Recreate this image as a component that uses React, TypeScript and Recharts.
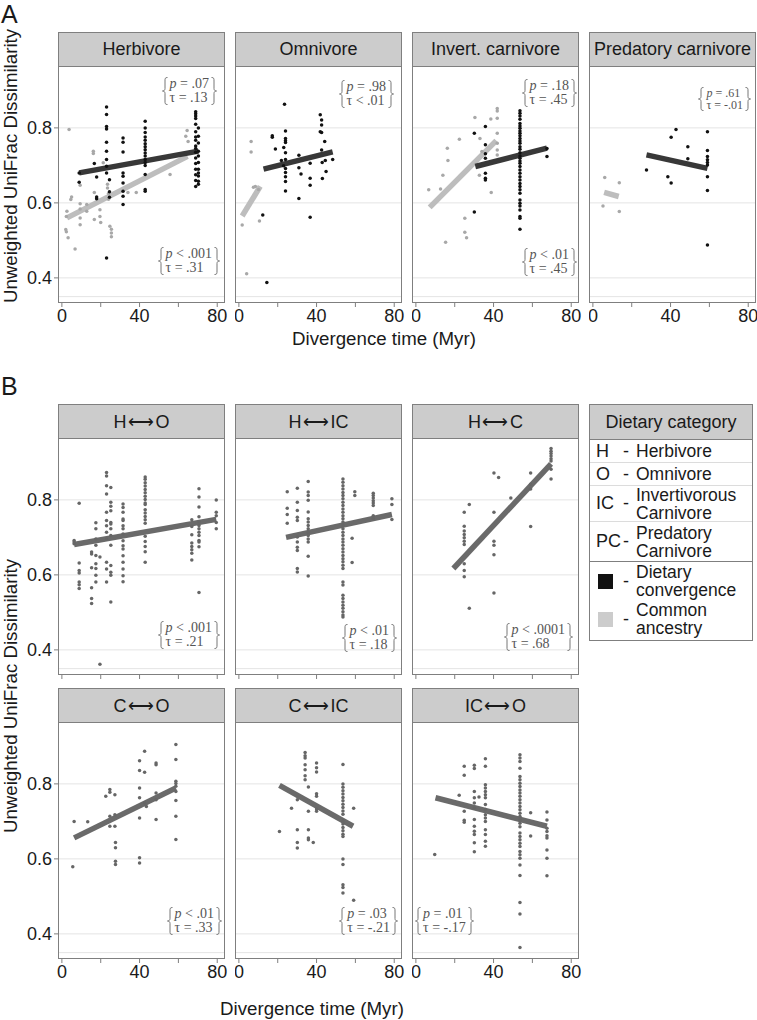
import { ComposedChart, Line, ReferenceLine, Scatter, XAxis, YAxis } from 'recharts'

type Pt = [number, number]

// shared scales (facets share both axes)
const xDomain = [-2, 84]
const yDomain = [0.333, 0.965]
const xTicks = [0, 20, 40, 60, 80]
const xTickLabels = [0, 40, 80]
const yTicks = [0.4, 0.6, 0.8]
const gridLines = [0.35, 0.4, 0.6, 0.8]

// several points sharing the same divergence time
const col = (x: number, ys: number[]): Pt[] => ys.map((y) => [x, y] as Pt)

// ---------- panel A ----------
const herbConv: Pt[] = [
  ...col(8.9, [0.68, 0.655]),
  [16.7, 0.705],
  ...col(17.9, [0.669, 0.616, 0.611]),
  ...col(23, [0.856, 0.836, 0.804, 0.797, 0.762, 0.738, 0.716, 0.698, 0.68, 0.453]),
  ...col(24.5, [0.662, 0.63, 0.615]),
  ...col(31.5, [0.773, 0.762, 0.736, 0.68, 0.671, 0.653, 0.631, 0.618, 0.596]),
  ...col(42.9, [0.818, 0.8, 0.788, 0.776, 0.767, 0.758, 0.75, 0.742, 0.733, 0.725, 0.716, 0.708, 0.7, 0.676, 0.636, 0.631]),
  ...col(68.9, [0.843, 0.838, 0.832, 0.825, 0.81, 0.79, 0.776, 0.767, 0.752, 0.745, 0.735, 0.72, 0.705, 0.69, 0.675, 0.66, 0.644]),
  ...col(70.3, [0.8, 0.778, 0.76, 0.738, 0.725, 0.708, 0.69, 0.68, 0.672, 0.658, 0.65])
]
const herbAnc: Pt[] = [
  [3.7, 0.796], [2.6, 0.578], [2.3, 0.564], [2, 0.529], [2.3, 0.523], [3.2, 0.507], [4.6, 0.609], [5, 0.616],
  [6.8, 0.477], ...col(9.4, [0.647, 0.598, 0.584, 0.56, 0.542]), [12.8, 0.596], [12.8, 0.578], [16.2, 0.738],
  [16.2, 0.732], [16.7, 0.628], [16.7, 0.556], [19.6, 0.582], [19.6, 0.564], [20, 0.548], [21.3, 0.707],
  [23.5, 0.65], [23.5, 0.64], [24, 0.625], [24, 0.61], [24.7, 0.538], ...col(25.5, [0.53, 0.52, 0.51]),
  [34, 0.628], [38.3, 0.628], [55.7, 0.676], [63.8, 0.778], [64.5, 0.793], [65, 0.764]
]
const herbConvFit: Pt[] = [[8.9, 0.68], [70.3, 0.738]]
const herbAncFit: Pt[] = [[2.6, 0.56], [64.7, 0.724]]

const omniConv: Pt[] = [
  [12.3, 0.568], [14.4, 0.388], [17.2, 0.779], [17.2, 0.775], [18.8, 0.744], [21.9, 0.713], [23.1, 0.748],
  [23.5, 0.863], ...col(24, [0.792, 0.772, 0.766, 0.761, 0.734, 0.716, 0.692, 0.681, 0.67, 0.657, 0.632]),
  [23, 0.699], ...col(30.9, [0.727, 0.694, 0.612]), [32, 0.677], ...col(36.7, [0.706, 0.666, 0.647, 0.562]),
  [41.9, 0.835], [42.6, 0.821], [42.6, 0.808], [41.9, 0.79], [42.6, 0.788], [44.2, 0.764], [42.6, 0.741],
  [42.9, 0.708], [44.5, 0.713], [44.9, 0.684], [43, 0.665], [48.3, 0.716]
]
const omniAnc: Pt[] = [[6.3, 0.764], [6.3, 0.736], [7.5, 0.642], [8.5, 0.644], [10.1, 0.636], [10.6, 0.552], [1.7, 0.541], [4, 0.411]]
const omniConvFit: Pt[] = [[12.7, 0.69], [48.3, 0.736]]
const omniAncFit: Pt[] = [[1.7, 0.565], [11, 0.644]]

const invConv: Pt[] = [
  [30.1, 0.786], [30.1, 0.576], ...col(35.8, [0.804, 0.755, 0.731, 0.719, 0.679, 0.666, 0.661]),
  ...col(53.6, [0.846, 0.839, 0.832, 0.823, 0.812, 0.805, 0.799, 0.792, 0.786, 0.779, 0.772, 0.765, 0.759, 0.75, 0.743, 0.734, 0.725, 0.719, 0.712, 0.706, 0.697, 0.688, 0.679, 0.67, 0.661, 0.652, 0.644, 0.635, 0.626, 0.608, 0.599, 0.592, 0.581, 0.564, 0.559, 0.53]),
  [67.5, 0.745], [67.5, 0.724]
]
const invAnc: Pt[] = [
  [6.6, 0.635], [12.7, 0.637], [13.9, 0.674], [16.2, 0.746], [16.5, 0.713], [15.3, 0.495], [22.4, 0.77],
  [25.2, 0.559], [25.2, 0.522], [26.1, 0.507], [30.4, 0.828], [33, 0.772], [34, 0.737], [32.7, 0.674],
  [38.6, 0.824], [38.8, 0.628], ...col(41.9, [0.852, 0.845, 0.826, 0.786, 0.759, 0.741, 0.728])
]
const invConvFit: Pt[] = [[30.6, 0.697], [67.5, 0.746]]
const invAncFit: Pt[] = [[7.1, 0.588], [41.4, 0.766]]

const predConv: Pt[] = [
  [27.6, 0.688], [38.6, 0.67], [40.3, 0.775], [40.3, 0.653], [42.8, 0.796], [48.9, 0.75], [48.9, 0.718],
  ...col(59, [0.79, 0.74, 0.724, 0.715, 0.708, 0.701, 0.67, 0.633, 0.488])
]
const predAnc: Pt[] = [[6.1, 0.668], [5.2, 0.592], [13.6, 0.654], [13.6, 0.577]]
const predConvFit: Pt[] = [[27.6, 0.728], [59, 0.692]]
const predAncFit: Pt[] = [[5.8, 0.628], [13.3, 0.617]]

// ---------- panel B ----------
const hoPts: Pt[] = [
  ...col(6.3, [0.692, 0.688, 0.683]),
  ...col(8.9, [0.791, 0.632, 0.612, 0.605, 0.581, 0.574, 0.564]),
  ...col(15.3, [0.661, 0.656, 0.619, 0.566, 0.537, 0.524]),
  ...col(17.5, [0.739, 0.723, 0.696, 0.679, 0.652, 0.63, 0.617, 0.599, 0.581]),
  ...col(19.6, [0.648, 0.362]),
  ...col(23, [0.873, 0.864, 0.838, 0.816, 0.767, 0.745, 0.731, 0.714, 0.696, 0.634, 0.616, 0.581]),
  ...col(25.2, [0.833, 0.794, 0.783, 0.771, 0.74, 0.736, 0.723, 0.705, 0.679, 0.625, 0.607, 0.599, 0.528]),
  ...col(31.5, [0.789, 0.78, 0.767, 0.749, 0.745, 0.731, 0.723, 0.709, 0.691, 0.678, 0.669, 0.651, 0.634, 0.616, 0.598, 0.582]),
  ...col(42.9, [0.861, 0.855, 0.846, 0.837, 0.828, 0.819, 0.81, 0.801, 0.792, 0.788, 0.774, 0.765, 0.756, 0.747, 0.738, 0.703, 0.689, 0.676, 0.662, 0.634]),
  ...col(66.9, [0.747, 0.729, 0.707, 0.685, 0.676, 0.667, 0.658, 0.64]),
  ...col(70.6, [0.83, 0.808, 0.781, 0.755, 0.741, 0.732, 0.723, 0.714, 0.705, 0.692, 0.688, 0.675, 0.553]),
  ...col(79.5, [0.8, 0.767, 0.758, 0.74, 0.723])
]
const hoFit: Pt[] = [[6.3, 0.681], [79.5, 0.748]]

const hicPts: Pt[] = [
  ...col(24.9, [0.822, 0.778, 0.761, 0.738]),
  ...col(30.1, [0.831, 0.794, 0.772, 0.754, 0.745, 0.701, 0.688, 0.674, 0.665, 0.617, 0.608]),
  ...col(35.7, [0.849, 0.821, 0.812, 0.799, 0.768, 0.75, 0.741, 0.732, 0.723, 0.714, 0.705, 0.696, 0.688, 0.65, 0.597]),
  ...col(53.6, [0.856, 0.847, 0.838, 0.829, 0.82, 0.812, 0.803, 0.794, 0.785, 0.776, 0.767, 0.758, 0.75, 0.741, 0.732, 0.723, 0.714, 0.705, 0.696, 0.688, 0.679, 0.67, 0.661, 0.652, 0.643, 0.635, 0.626, 0.617, 0.581, 0.573, 0.546, 0.537, 0.528, 0.519, 0.511, 0.502, 0.493, 0.488]),
  [58.3, 0.698], [58.3, 0.633],
  ...col(59.7, [0.822, 0.812]),
  ...col(69.2, [0.818, 0.812, 0.805, 0.798, 0.792, 0.785, 0.758, 0.75]),
  ...col(78.8, [0.803, 0.788, 0.748])
]
const hicFit: Pt[] = [[24.3, 0.7], [78.8, 0.761]]

const hcPts: Pt[] = [
  ...col(24.9, [0.767, 0.73, 0.717, 0.708, 0.699, 0.69, 0.681, 0.63, 0.612, 0.595]),
  [27.5, 0.788], [27.5, 0.511],
  ...col(40.2, [0.872, 0.767, 0.69, 0.679, 0.654, 0.552]),
  [42.6, 0.86], [48.9, 0.805],
  ...col(59.1, [0.872, 0.842, 0.829, 0.729]),
  ...col(69.6, [0.937, 0.93, 0.924, 0.917, 0.91, 0.904, 0.882, 0.856])
]
const hcFit: Pt[] = [[19.3, 0.617], [69.6, 0.896]]

const coPts: Pt[] = [
  [5.6, 0.579], [6.3, 0.7], [13.3, 0.699], [22.6, 0.767], [24.7, 0.785], [24.7, 0.778], [27.3, 0.771],
  [24.7, 0.714], [24.7, 0.687], [27.3, 0.718], [27.3, 0.687], ...col(27.6, [0.644, 0.63, 0.594, 0.585]),
  ...col(40, [0.862, 0.836, 0.789, 0.763, 0.709, 0.603, 0.589]),
  [42.6, 0.887], [42.6, 0.831], [42.6, 0.749], [43.5, 0.74],
  ...col(48.5, [0.856, 0.851, 0.776, 0.758, 0.705]),
  ...col(58.7, [0.905, 0.865, 0.807, 0.801, 0.794, 0.78, 0.756, 0.714, 0.652])
]
const coFit: Pt[] = [[6.3, 0.656], [58.7, 0.789]]

const cicPts: Pt[] = [
  [20.9, 0.673], [27.1, 0.735], ...col(30.1, [0.758, 0.678, 0.644, 0.629]),
  ...col(34.1, [0.884, 0.875, 0.869, 0.851, 0.838, 0.822, 0.811]),
  ...col(35.8, [0.792, 0.727, 0.678, 0.656, 0.651]), [38.3, 0.644],
  ...col(40, [0.856, 0.843, 0.832, 0.774, 0.767, 0.733, 0.727]),
  ...col(53.6, [0.852, 0.8, 0.791, 0.782, 0.773, 0.764, 0.755, 0.746, 0.737, 0.728, 0.719, 0.702, 0.693, 0.684, 0.675, 0.666, 0.66, 0.6, 0.585, 0.531, 0.524, 0.509]),
  [59.1, 0.735], [59.1, 0.49]
]
const cicFit: Pt[] = [[20.9, 0.796], [58.8, 0.687]]

const icoPts: Pt[] = [
  [9.7, 0.612], [22.3, 0.77], ...col(24.9, [0.847, 0.823, 0.727, 0.703, 0.698]),
  ...col(30.1, [0.85, 0.841, 0.78, 0.763, 0.749, 0.736, 0.705, 0.687, 0.674, 0.665, 0.643, 0.619]),
  [32.5, 0.765],
  ...col(35.8, [0.867, 0.847, 0.798, 0.789, 0.78, 0.771, 0.763, 0.745, 0.732, 0.718, 0.709, 0.7, 0.678, 0.665, 0.647, 0.634]),
  ...col(53.6, [0.878, 0.869, 0.86, 0.842, 0.82, 0.811, 0.802, 0.793, 0.784, 0.776, 0.767, 0.758, 0.749, 0.74, 0.731, 0.722, 0.713, 0.704, 0.695, 0.686, 0.669, 0.66, 0.651, 0.642, 0.633, 0.62, 0.611, 0.602, 0.584, 0.556, 0.484, 0.453, 0.364]),
  [59.1, 0.723], [59.1, 0.661],
  ...col(67.5, [0.725, 0.704, 0.682, 0.673, 0.662, 0.656, 0.624, 0.602, 0.555])
]
const icoFit: Pt[] = [[10.1, 0.763], [67.5, 0.687]]

// ---------- styling / layout ----------
const SANS = '"Liberation Sans", Arial, sans-serif'
const SERIF = '"Liberation Serif", "DejaVu Serif", serif'
const INK = '#1a1a1a'
const FRAME = '#7f7f7f'
const STRIP = '#cccccc'
const GRID = '#e4e4e4'

const PW = 167
const STRIP_H = 34
const PLOT_H = 237
const Y_W = 40
const X_H = 28
const R_PAD = 14
const COLS = [58, 235, 412, 589]

const CONV = { dot: '#111111', line: '#383838' }
const ANC = { dot: '#a8a8a8', line: '#bdbdbd' }
const PAIR = { dot: '#666666', line: '#6a6a6a' }

interface Series { pts: Pt[]; fit: Pt[]; dot: string; line: string }
interface NoteDef { p: string; t: string; top: number; right?: number; left?: number; small?: boolean }
interface FacetDef { title: string; left: number; top: number; showY: boolean; xLabels: boolean; series: Series[]; notes: NoteDef[] }

const toXY = (pts: Pt[]) => pts.map(([x, y]) => ({ x, y }))
const pair = (a: string, b: string) => `${a}\u200A\u27F7\u200A${b}`

const facets: FacetDef[] = [
  { title: 'Herbivore', left: COLS[0], top: 32, showY: true, xLabels: true,
    series: [{ pts: herbAnc, fit: herbAncFit, ...ANC }, { pts: herbConv, fit: herbConvFit, ...CONV }],
    notes: [{ p: '= .07', t: '= .13', top: 11, right: 8 }, { p: '< .001', t: '= .31', top: 181, right: 5 }] },
  { title: 'Omnivore', left: COLS[1], top: 32, showY: false, xLabels: true,
    series: [{ pts: omniAnc, fit: omniAncFit, ...ANC }, { pts: omniConv, fit: omniConvFit, ...CONV }],
    notes: [{ p: '= .98', t: '< .01', top: 14, right: 8 }] },
  { title: 'Invert. carnivore', left: COLS[2], top: 32, showY: false, xLabels: true,
    series: [{ pts: invAnc, fit: invAncFit, ...ANC }, { pts: invConv, fit: invConvFit, ...CONV }],
    notes: [{ p: '= .18', t: '= .45', top: 13, right: 2 }, { p: '< .01', t: '= .45', top: 182, right: 2 }] },
  { title: 'Predatory carnivore', left: COLS[3], top: 32, showY: false, xLabels: true,
    series: [{ pts: predAnc, fit: predAncFit, ...ANC }, { pts: predConv, fit: predConvFit, ...CONV }],
    notes: [{ p: '= .61', t: '= -.01', top: 21, right: 5, small: true }] },
  { title: pair('H', 'O'), left: COLS[0], top: 404, showY: true, xLabels: false,
    series: [{ pts: hoPts, fit: hoFit, ...PAIR }], notes: [{ p: '< .001', t: '= .21', top: 183, right: 5 }] },
  { title: pair('H', 'IC'), left: COLS[1], top: 404, showY: false, xLabels: false,
    series: [{ pts: hicPts, fit: hicFit, ...PAIR }], notes: [{ p: '< .01', t: '= .18', top: 186, right: 5 }] },
  { title: pair('H', 'C'), left: COLS[2], top: 404, showY: false, xLabels: false,
    series: [{ pts: hcPts, fit: hcFit, ...PAIR }], notes: [{ p: '< .0001', t: '= .68', top: 185, right: 6 }] },
  { title: pair('C', 'O'), left: COLS[0], top: 688, showY: true, xLabels: true,
    series: [{ pts: coPts, fit: coFit, ...PAIR }], notes: [{ p: '< .01', t: '= .33', top: 185, right: 3 }] },
  { title: pair('C', 'IC'), left: COLS[1], top: 688, showY: false, xLabels: true,
    series: [{ pts: cicPts, fit: cicFit, ...PAIR }], notes: [{ p: '= .03', t: '= -.21', top: 185, right: 4 }] },
  { title: pair('IC', 'O'), left: COLS[2], top: 688, showY: false, xLabels: true,
    series: [{ pts: icoPts, fit: icoFit, ...PAIR }], notes: [{ p: '= .01', t: '= -.17', top: 185, left: 3 }] }
]

function Brace({ h, flip }: { h: number; flip?: boolean }) {
  const m = h / 2
  return (
    <svg width={6} height={h} style={{ flex: 'none', transform: flip ? 'scaleX(-1)' : undefined }}>
      <path
        d={`M5.5,0.5 C3,0.5 3,1.5 3,4 L3,${m - 2.5} C3,${m - 0.8} 2,${m} 0.5,${m} C2,${m} 3,${m + 0.8} 3,${m + 2.5} L3,${h - 4} C3,${h - 1.5} 3,${h - 0.5} 5.5,${h - 0.5}`}
        fill="none"
        stroke="#666"
        strokeWidth={0.9}
      />
    </svg>
  )
}

function Note({ n }: { n: NoteDef }) {
  const fs = n.small ? 12 : 14
  const lh = n.small ? 12 : 14
  return (
    <div
      style={{
        position: 'absolute', top: n.top, right: n.right, left: n.left, display: 'flex', alignItems: 'center',
        fontFamily: SERIF, fontSize: fs, lineHeight: `${lh}px`, color: '#555', whiteSpace: 'pre'
      }}>
      <Brace h={lh * 2} />
      <div style={{ padding: '0 2px' }}>
        <div><i>p</i>{' ' + n.p}</div>
        <div>{'\u03C4 ' + n.t}</div>
      </div>
      <Brace h={lh * 2} flip />
    </div>
  )
}

const dotShape = (fill: string) => (p: any) => <circle cx={p.cx} cy={p.cy} r={1.75} fill={fill} />

function Facet({ f }: { f: FacetDef }) {
  const yw = f.showY ? Y_W : 0
  const tickStyle = { fontSize: 18, fill: INK, fontFamily: SANS }
  return (
    <div style={{ position: 'absolute', left: f.left, top: f.top, width: PW, height: STRIP_H + PLOT_H }}>
      <div style={{ position: 'absolute', left: -yw, top: STRIP_H }}>
        <ComposedChart width={PW + yw + R_PAD} height={PLOT_H + X_H} margin={{ top: 0, right: R_PAD, bottom: 0, left: 0 }}>
          <XAxis
            type="number" dataKey="x" domain={xDomain} ticks={xTicks} interval={0} allowDataOverflow
            axisLine={false} tickLine={{ stroke: FRAME }} tickSize={4} tickMargin={2} height={X_H}
            tick={tickStyle}
            tickFormatter={(v: number) => (f.xLabels && xTickLabels.includes(v) ? String(v) : '')}
          />
          <YAxis
            type="number" dataKey="y" domain={yDomain} ticks={yTicks} interval={0} allowDataOverflow
            hide={!f.showY} width={Y_W} axisLine={false} tickLine={{ stroke: FRAME }} tickSize={4} tickMargin={2}
            tick={tickStyle} tickFormatter={(v: number) => v.toFixed(1)}
          />
          {gridLines.map((g) => (
            <ReferenceLine key={g} y={g} stroke={GRID} strokeWidth={1} />
          ))}
          {f.series.map((s, i) => (
            <Scatter key={'s' + i} data={toXY(s.pts)} dataKey="y" shape={dotShape(s.dot)} isAnimationActive={false} />
          ))}
          {f.series.map((s, i) => (
            <Line
              key={'l' + i} data={toXY(s.fit)} dataKey="y" type="linear" stroke={s.line} strokeWidth={5.5}
              strokeLinecap="butt" dot={false} activeDot={false} isAnimationActive={false}
            />
          ))}
        </ComposedChart>
      </div>
      <div
        style={{
          position: 'absolute', left: 0, top: 0, width: PW, height: STRIP_H + PLOT_H, boxSizing: 'border-box',
          border: `1px solid ${FRAME}`, pointerEvents: 'none'
        }}>
        <div
          style={{
            height: STRIP_H - 1, background: STRIP, borderBottom: `1px solid ${FRAME}`, display: 'flex',
            alignItems: 'center', justifyContent: 'center', fontFamily: SANS, fontSize: 18, color: INK
          }}>
          {f.title}
        </div>
      </div>
      <div style={{ position: 'absolute', left: 0, top: STRIP_H, width: PW, height: PLOT_H }}>
        {f.notes.map((n, i) => (
          <Note key={i} n={n} />
        ))}
      </div>
    </div>
  )
}

const legendCodes = [
  { code: 'H', label: ['Herbivore'], top: 36, h: 23 },
  { code: 'O', label: ['Omnivore'], top: 59, h: 23 },
  { code: 'IC', label: ['Invertivorous', 'Carnivore'], top: 82, h: 36 },
  { code: 'PC', label: ['Predatory', 'Carnivore'], top: 118, h: 39 }
]
const legendKeys = [
  { fill: '#111111', label: ['Dietary', 'convergence'], top: 158, h: 38 },
  { fill: '#cccccc', label: ['Common', 'ancestry'], top: 196, h: 38 }
]

function Legend() {
  const row = (top: number, h: number, first: any, label: string[], sep: boolean, key: string) => (
    <div
      key={key}
      style={{
        position: 'absolute', left: 0, top, width: '100%', height: h, display: 'flex', alignItems: 'center',
        borderBottom: sep ? '1px solid #dcdcdc' : undefined, boxSizing: 'border-box'
      }}>
      <div style={{ width: 33, paddingLeft: 6, boxSizing: 'border-box', flex: 'none' }}>{first}</div>
      <div style={{ width: 13, flex: 'none' }}>-</div>
      <div style={{ lineHeight: '18px', fontSize: 17.5 }}>
        {label.map((l) => (
          <div key={l}>{l}</div>
        ))}
      </div>
    </div>
  )
  return (
    <div
      style={{
        position: 'absolute', left: 589, top: 404, width: 164, height: 237, boxSizing: 'border-box',
        border: `1px solid ${FRAME}`, fontFamily: SANS, fontSize: 18, color: INK
      }}>
      <div
        style={{
          height: 34, background: STRIP, borderBottom: `1px solid ${FRAME}`, display: 'flex', alignItems: 'center',
          justifyContent: 'center'
        }}>
        Dietary category
      </div>
      {legendCodes.map((r, i) => row(r.top - 1, r.h, r.code, r.label, i < 3, r.code))}
      <div style={{ position: 'absolute', left: 0, top: 156, width: '100%', borderTop: `1px solid ${FRAME}` }} />
      {legendKeys.map((r) =>
        row(r.top - 1, r.h, <div style={{ width: 15, height: 15, background: r.fill, marginLeft: 2 }} />, r.label, false, r.label[0])
      )}
    </div>
  )
}

export default function App() {
  return (
    <div style={{ position: 'absolute', left: 0, top: 0, width: 757, height: 1020, background: '#fff', overflow: 'hidden' }}>
      <svg width={757} height={1020} style={{ position: 'absolute', left: 0, top: 0 }}>
        <g fontFamily={SANS} fill={INK}>
          <text x={1} y={23} fontSize={25}>A</text>
          <text x={1} y={395} fontSize={25}>B</text>
          <text transform="translate(17,166) rotate(-90)" textAnchor="middle" fontSize={18.7}>
            Unweighted UniFrac Dissimilarity
          </text>
          <text transform="translate(17,696) rotate(-90)" textAnchor="middle" fontSize={18.7}>
            Unweighted UniFrac Dissimilarity
          </text>
          <text x={384} y={345} textAnchor="middle" fontSize={18.7}>Divergence time (Myr)</text>
          <text x={312} y={1015} textAnchor="middle" fontSize={18.7}>Divergence time (Myr)</text>
        </g>
      </svg>
      {facets.map((f) => (
        <Facet key={f.title} f={f} />
      ))}
      <Legend />
    </div>
  )
}
